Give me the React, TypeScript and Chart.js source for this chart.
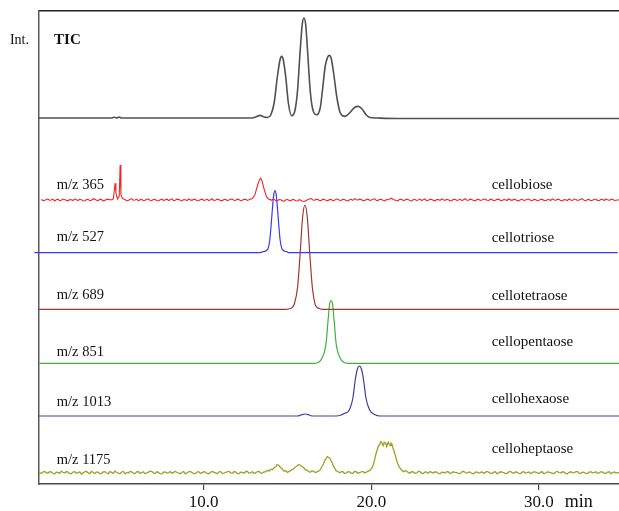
import { useEffect, useRef } from "react";
import { Chart, registerables } from "chart.js";

Chart.register(...registerables);

// ---------- data ----------
const timeMin = 0.14;
const timeMax = 34.78;
const xTickValues = [10, 20, 30];
const xUnit = "min";
const yAxisLabel = "Int.";

const traceNames = ["TIC", "m/z 365", "m/z 527", "m/z 689", "m/z 851", "m/z 1013", "m/z 1175"];
const compoundNames = ["", "cellobiose", "cellotriose", "cellotetraose", "cellopentaose", "cellohexaose", "celloheptaose"];
// vertical stacking offsets of each trace (intensity units)
const traceOffsets = [366, 284, 231.3, 174.7, 120.7, 68, 11.3];

// each trace: [time (min), intensity, time, intensity, ...]
const ticTrace = [
  0.14, 0, 4.5, 0, 4.7, 0.8, 4.8, 0, 4.95, 1, 5.1, 0, 12.9, 0, 13.1, 1, 13.36, 2.6, 13.6, 1, 13.8, 0.5,
  14.0, 3, 14.2, 15, 14.4, 42, 14.55, 58, 14.65, 61.6, 14.75, 58, 14.9, 40, 15.05, 15, 15.25, 2.3,
  15.45, 8, 15.6, 28, 15.75, 66, 15.88, 94, 15.98, 100, 16.08, 94, 16.2, 66, 16.35, 28, 16.5, 9, 16.74, 3.3,
  16.95, 10, 17.1, 30, 17.25, 52, 17.4, 61, 17.49, 62.6, 17.6, 60, 17.75, 45, 17.95, 20, 18.15, 5, 18.43, 1.6,
  18.7, 5, 19.0, 10.5, 19.22, 11.6, 19.45, 9, 19.7, 3, 19.92, 0.5, 20.3, 0, 21.5, -0.5, 34.78, -0.5,
];

const mz365Trace = [
  0.3, 0.5, 0.4, -0.4, 0.5, -0.5, 0.6, 0.6, 0.7, 1, 0.8, -0.2, 0.9, 0, 1.0, 0.9, 1.1, -1, 1.2, 0.2, 1.3, 0.8,
  1.4, -0.6, 1.5, -0.3, 1.6, 1, 1.7, 0.6, 1.8, -0.4, 1.9, -0.8, 2.0, 0.5, 2.1, 0.3, 2.2, -0.5, 2.3, 1.2,
  2.5, -0.5, 2.6, 0.7, 2.7, 0.2, 2.8, -0.7, 2.9, -1, 3.0, 0.4, 3.1, 0.7, 3.2, -0.6, 3.3, -0.2, 3.4, 1.1,
  3.5, 0.9, 3.6, -0.3, 3.7, -0.6, 3.8, 0.8, 3.9, 0.4, 4.0, -0.8, 4.1, -0.4, 4.2, 0.6, 4.3, 0.8,
  4.45, 0, 4.6, 1, 4.66, 9, 4.71, 16.7, 4.76, 7, 4.85, 1, 4.96, 4, 5.01, 35, 5.06, 5, 5.15, 1.5, 5.3, 0.5,
  5.4, -0.6, 5.5, -0.5, 5.6, 0.7, 5.7, 1.2, 5.8, -0.2, 5.9, 0, 6.0, 0.9, 6.1, -0.8, 6.2, 0.3, 6.3, 0.6,
  6.4, -0.7, 6.5, -0.3, 6.6, 0.8, 6.7, 1, 6.8, -0.2, 6.9, -0.6, 7.0, 0.7, 7.1, 0.4, 7.2, -0.5, 7.3, -1,
  7.4, 0.2, 7.5, 0.8, 7.6, -0.4, 7.7, 0.1, 7.8, 1, 7.9, -0.5, 8.0, 0.3, 8.1, 1.1, 8.2, -0.7, 8.3, -0.2,
  8.4, 0.9, 8.5, 0.6, 8.6, -0.3, 8.7, -0.9, 8.8, 0.5, 8.9, 0.3, 9.0, -0.6, 9.1, 1, 9.2, 0.1, 9.3, -0.4,
  9.4, 0.8, 9.5, 0.5, 9.6, -0.8, 9.7, -0.7, 9.8, 0.4, 9.9, 0.9, 10.0, -0.3, 10.1, 0, 10.2, 0.8, 10.3, -0.6,
  10.4, 0.3, 10.5, 1.2, 10.6, -0.5, 10.7, -0.3, 10.8, 0.9, 10.9, 0.4, 11.0, -0.4, 11.1, -0.8, 11.2, 0.5,
  11.3, 0.7, 11.4, -0.6, 11.5, 0, 11.6, 0.8, 11.7, 1, 11.8, -0.3, 11.9, -0.5, 12.0, 0.9, 12.1, 0.5,
  12.2, -0.7, 12.3, -0.3, 12.4, 0.6, 12.5, 0.8, 12.6, -0.4, 12.7, 0.2, 12.8, 1.1, 12.9, 1.5, 13.05, 5,
  13.2, 14, 13.32, 20, 13.4, 21.7, 13.48, 19, 13.6, 11, 13.75, 3, 13.9, 0.5, 14.0, 0.4, 14.05, -0.5,
  14.1, 0.6, 14.2, 0.8, 14.3, -0.6, 14.4, -0.8, 14.5, 0.5, 14.6, 0.3, 14.7, -0.9, 14.8, -1.2, 14.9, 0.2,
  15.0, 0.5, 15.1, -0.4, 15.2, -0.7, 15.3, 0.6, 15.4, 0.2, 15.5, -0.8, 15.6, -1, 15.7, 0.3, 15.8, -0.2,
  15.9, -1.2, 16.0, -1.5, 16.1, -0.6, 16.2, 0.3, 16.3, 0.9, 16.4, 1.5, 16.5, 0.2, 16.6, -0.4, 16.7, 0.6,
  16.8, 0.8, 16.9, -0.5, 17.0, -0.6, 17.1, 0.9, 17.2, 0.5, 17.3, -0.3, 17.4, -0.8, 17.5, 0.4, 17.6, 0.6,
  17.7, -0.6, 17.8, -0.3, 17.9, 0.8, 18.0, 1, 18.1, -0.2, 18.2, -0.5, 18.3, 0.7, 18.4, 0.4, 18.5, -0.6,
  18.6, -0.9, 18.7, 0.3, 18.8, 0.7, 18.9, -0.4, 19.0, 1.3, 19.1, 0.4, 19.2, -0.2, 19.3, 0.9, 19.4, 0.5,
  19.5, -0.6, 19.6, -0.7, 19.7, 0.5, 19.8, 0.9, 19.9, -0.3, 20.0, 0, 20.1, 0.8, 20.2, 1.2, 20.3, -0.5,
  20.4, -0.4, 20.5, 0.7, 20.6, 0.6, 20.7, -0.5, 20.8, -0.8, 20.9, 0.4, 21.0, 0.3, 21.1, 0.9, 21.2, 1.8,
  21.3, 0.5, 21.4, 0, 21.5, -0.8, 21.6, -0.6, 21.7, 0.6, 21.8, 0.8, 21.9, -0.4, 22.0, -0.3, 22.1, 0.9,
  22.2, 0.5, 22.3, -0.6, 22.4, -1, 22.5, 0.2, 22.6, 0.7, 22.7, -0.5, 22.8, 0.1, 22.9, 0.9, 23.0, -0.5,
  23.1, 0.3, 23.2, 1, 23.3, -0.6, 23.4, -0.2, 23.5, 0.8, 23.6, 0.6, 23.7, -0.4, 23.8, -0.8, 23.9, 0.5,
  24.0, 0.4, 24.1, -0.3, 24.2, 1.1, 24.3, 0.2, 24.4, -0.4, 24.5, 0.7, 24.6, 0.3, 24.7, -0.9, 24.8, -0.7,
  24.9, 0.6, 25.0, 0.8, 25.1, -0.4, 25.2, 0, 25.3, 0.9, 25.4, -0.6, 25.5, 0.2, 25.6, 1.3, 25.7, -0.2,
  25.8, -0.3, 25.9, 0.8, 26.0, 0.5, 26.1, -0.6, 26.2, -0.9, 26.3, 0.4, 26.4, 0.6, 26.5, -0.5, 26.6, 0,
  26.7, 0.7, 26.8, 1, 26.9, -0.3, 27.0, -0.5, 27.1, 0.8, 27.2, 0.4, 27.3, -0.7, 27.4, -0.2, 27.5, 0.6,
  27.6, 0.9, 27.7, -0.4, 27.8, -0.7, 27.9, 0.5, 28.0, 0.3, 28.1, -0.5, 28.2, 1.2, 28.3, 0.1, 28.4, -0.4,
  28.5, 0.8, 28.6, 0.5, 28.7, -0.6, 28.8, -0.8, 28.9, 0.3, 29.0, 0.7, 29.1, -0.4, 29.2, 0, 29.3, 0.8,
  29.4, 1, 29.5, -0.3, 29.6, -0.6, 29.7, 0.6, 29.8, 0.4, 29.9, -0.7, 30.0, -0.3, 30.1, 0.5, 30.2, 0.9,
  30.3, -0.4, 30.4, -0.7, 30.5, 0.3, 30.6, 0.5, 30.7, -0.5, 30.8, 1.1, 30.9, 0.2, 31.0, -0.4, 31.1, 0.7,
  31.2, 0.6, 31.3, -0.6, 31.4, -0.9, 31.5, 0.4, 31.6, 0.3, 31.7, -0.5, 31.8, 1, 31.9, 0.1, 32.0, -0.5,
  32.1, 0.8, 32.2, 0.7, 32.3, -0.4, 32.4, 0, 32.5, 0.9, 32.6, 1.2, 32.7, -0.3, 32.8, -0.6, 32.9, 0.5,
  33.0, 0.4, 33.1, -0.6, 33.2, -0.3, 33.3, 0.7, 33.4, 0.8, 33.5, -0.4, 33.6, -0.7, 33.7, 0.6, 33.8, 0.5,
  33.9, -0.5, 34.0, 1, 34.1, 0.2, 34.2, -0.4, 34.3, 0.7, 34.4, 0.6, 34.5, -0.5, 34.6, -0.2, 34.78, 0.3,
];

const mz527Trace = [
  -0.1, 0, 13.3, 0, 13.55, 1, 13.8, 3, 13.95, 14, 14.07, 38, 14.17, 57, 14.25, 62, 14.33, 57, 14.43, 38,
  14.55, 14, 14.7, 3, 14.95, 1, 15.1, 0, 34.7, 0,
];

const mz689Trace = [
  0.14, 0, 14.9, 0, 15.2, 1, 15.4, 5, 15.6, 22, 15.75, 55, 15.9, 92, 16.04, 104.3, 16.18, 92, 16.33, 55,
  16.48, 22, 16.65, 5, 16.85, 1, 17.1, 0, 34.78, 0,
];

const mz851Trace = [
  0.14, 0, 16.6, 0, 16.85, 1, 17.05, 5, 17.3, 20, 17.43, 45, 17.52, 60, 17.6, 62.6, 17.68, 60, 17.77, 45,
  17.9, 20, 18.15, 5, 18.35, 1, 18.6, 0, 34.78, 0,
];

const mz1013Trace = [
  0.14, 0, 15.6, 0, 15.8, 1, 16.04, 2, 16.3, 1, 16.5, 0, 17.9, 0, 18.2, 1, 18.45, 3, 18.65, 5, 18.9, 18,
  19.05, 37, 19.17, 47, 19.29, 50, 19.41, 47, 19.53, 37, 19.68, 18, 19.9, 6, 20.2, 1.5, 20.5, 0, 34.78, 0,
];

const mz1175Trace = [
  0.14, 0.5, 0.25, -0.3, 0.3, -0.8, 0.4, 0.6, 0.5, 1.2, 0.6, 0.1, 0.7, -0.5, 0.8, 1, 0.9, 0.8, 1.0, -0.6,
  1.1, -1.2, 1.2, 0.5, 1.3, 0.3, 1.4, -0.7, 1.5, 1.5, 1.6, 0.4, 1.7, -0.4, 1.8, 1.1, 1.9, 0.6, 2.0, -0.9,
  2.1, -1, 2.2, 0.7, 2.3, 1, 2.4, -0.5, 2.5, 0, 2.6, 0.9, 2.7, -1.3, 2.8, -0.2, 2.9, 0.9, 3.0, 1.4,
  3.1, -0.2, 3.2, -1, 3.3, 1.4, 3.4, 0.3, 3.5, -0.8, 3.6, 0.6, 3.7, 0.5, 3.8, -1.1, 3.9, -0.6, 4.0, 0.8,
  4.1, 1.1, 4.2, -0.3, 4.3, -1, 4.4, 1.2, 4.5, 0.4, 4.6, -0.6, 4.7, 1.6, 4.8, 0.5, 4.9, -0.5, 5.0, -1.1,
  5.1, 0.7, 5.2, 1.2, 5.3, -1.2, 5.4, 0.2, 5.5, -0.3, 5.6, 1.3, 5.7, 0.9, 5.8, -0.4, 5.9, -0.9, 6.0, 0.8,
  6.1, 1.2, 6.2, -0.7, 6.3, 0, 6.4, 0.9, 6.5, -1.1, 6.6, -0.2, 6.7, 0.6, 6.8, 1.5, 6.9, 1.3, 7.0, -0.4,
  7.1, -0.6, 7.2, 0.9, 7.3, 0.4, 7.4, -1.2, 7.5, -1, 7.6, 0.5, 7.7, 0.8, 7.8, -0.3, 7.9, 0.1, 8.0, 1.2,
  8.1, -0.7, 8.2, 0.3, 8.3, 1.4, 8.4, 0.2, 8.5, -0.4, 8.6, -1, 8.7, 0.5, 8.8, 1.1, 8.9, -1.2, 9.0, -0.2,
  9.1, 0.9, 9.2, 1.3, 9.3, 0.2, 9.4, -0.9, 9.5, -0.8, 9.6, 0.7, 9.7, 1.1, 9.8, -0.5, 9.9, -0.3, 10.0, 1,
  10.1, 0.6, 10.2, -0.8, 10.3, -1, 10.4, 0.4, 10.5, 1.3, 10.6, 0.5, 10.7, -0.2, 10.8, -1.1, 10.9, 0.7,
  11.0, 1.2, 11.1, -0.9, 11.2, -0.3, 11.3, 0.4, 11.4, 0.9, 11.5, 1.5, 11.6, -0.2, 11.7, -0.5, 11.8, 1,
  11.9, 0.8, 12.0, -0.7, 12.1, -1.1, 12.2, 0.6, 12.3, 0.3, 12.4, -0.5, 12.5, 1, 12.6, 1.4, 12.7, -0.6,
  12.8, 0.2, 12.9, 0.9, 13.0, -0.8, 13.1, 0, 13.2, 1.1, 13.3, 1.2, 13.4, -0.3, 13.5, -0.4, 13.6, 0.9,
  13.7, 0.8, 13.8, 2.4, 13.9, 1.8, 14.0, 3.5, 14.1, 3, 14.2, 5, 14.3, 6, 14.37, 8.2, 14.45, 7.7, 14.52, 6.5,
  14.6, 5, 14.7, 3.5, 14.8, 1.5, 14.9, 2, 15.0, 0.2, 15.08, 1.2, 15.15, 1.5, 15.25, 3, 15.35, 3.5,
  15.45, 5.5, 15.55, 6.5, 15.65, 8, 15.75, 7.7, 15.85, 6.2, 15.95, 5.5, 16.05, 3, 16.15, 2.5, 16.25, 1.2,
  16.35, 0.5, 16.45, 1.8, 16.55, 1.5, 16.65, 0.2, 16.75, 0.8, 16.85, 1.5, 16.95, 3, 17.05, 6, 17.15, 9,
  17.22, 12.5, 17.3, 14, 17.37, 16, 17.44, 15.4, 17.52, 14.5, 17.6, 12, 17.68, 9.5, 17.75, 6, 17.82, 4.5,
  17.9, 2, 18.0, 1.2, 18.1, 0, 18.2, 0.8, 18.3, 1.2, 18.4, -0.8, 18.5, -0.3, 18.6, 1.1, 18.7, 0.8,
  18.8, -0.4, 18.9, -0.6, 19.0, 1.2, 19.1, 1, 19.2, -0.5, 19.3, 0, 19.4, 0.9, 19.5, 1.3, 19.6, -0.2,
  19.7, 0.5, 19.8, 1.5, 19.9, 2, 19.98, 3.5, 20.05, 5, 20.12, 8.5, 20.2, 13, 20.27, 18.5, 20.35, 23,
  20.42, 26.5, 20.5, 28, 20.56, 31, 20.62, 30.4, 20.67, 28, 20.72, 27, 20.77, 30.5, 20.82, 30, 20.87, 28.5,
  20.92, 26, 20.97, 29.5, 21.02, 30.4, 21.07, 28, 21.12, 27, 21.17, 29.5, 21.22, 29, 21.28, 25.5, 21.35, 22,
  21.42, 18, 21.5, 13, 21.57, 9.5, 21.65, 6, 21.72, 4.5, 21.8, 3, 21.88, 1.5, 21.95, 1, 22.02, 2.2,
  22.1, 1.5, 22.2, 0.3, 22.3, -0.5, 22.4, 1, 22.5, 0.8, 22.6, -0.6, 22.7, -0.3, 22.8, 1.3, 22.9, 1,
  23.0, -0.4, 23.1, -0.8, 23.2, 0.7, 23.3, 0.5, 23.4, -0.5, 23.5, 1.2, 23.6, 0.3, 23.7, -0.4, 23.8, 0.9,
  23.9, 0.7, 24.0, -0.8, 24.1, -1, 24.2, 0.6, 24.3, 0.3, 24.4, -0.3, 24.5, 1.1, 24.6, 0.8, 24.7, -0.6,
  24.8, -0.2, 24.9, 0.9, 25.0, 0.4, 25.1, 0, 25.2, -0.7, 25.3, -0.9, 25.4, 0.8, 25.5, 1.4, 25.6, 0.2,
  25.7, -0.3, 25.8, 0.5, 25.9, 0.6, 26.0, -0.8, 26.1, -1.1, 26.2, 0.4, 26.3, 0.8, 26.4, -0.4, 26.5, 0.1,
  26.6, 1, 26.7, -0.7, 26.8, 0.3, 26.9, 1.2, 27.0, 0.5, 27.1, -0.4, 27.2, -0.8, 27.3, 0.5, 27.4, 0.9,
  27.5, -1, 27.6, -0.2, 27.7, 0.9, 27.8, 0.6, 27.9, 0.2, 28.0, -0.9, 28.1, -0.6, 28.2, 0.8, 28.3, 1.3,
  28.4, 0.1, 28.5, -0.5, 28.6, 0.9, 28.7, 0.4, 28.8, -0.6, 28.9, -0.9, 29.0, 0.5, 29.1, 1, 29.2, -0.3,
  29.3, 0, 29.4, 0.8, 29.5, -0.7, 29.6, -0.2, 29.7, 1.1, 29.8, 0.6, 29.9, -0.2, 30.0, -0.8, 30.1, 0.6,
  30.2, 0.9, 30.3, -1, 30.4, -0.3, 30.5, 0.8, 30.6, 0.5, 30.7, 0.1, 30.8, -0.6, 30.9, -0.8, 31.0, 0.7,
  31.1, 1.2, 31.2, 0.2, 31.3, -0.3, 31.4, 0.9, 31.5, 0.5, 31.6, -0.8, 31.7, -1.1, 31.8, 0.4, 31.9, 0.9,
  32.0, -0.2, 32.1, 0, 32.2, 0.8, 32.3, 1.3, 32.4, -0.4, 32.5, -0.6, 32.6, 0.6, 32.7, 0.4, 32.8, -0.7,
  32.9, -0.9, 33.0, 0.5, 33.1, 1, 33.2, -0.2, 33.3, 0.2, 33.4, 0.9, 33.5, -0.7, 33.6, -0.3, 33.7, 1.1,
  33.8, 0.6, 33.9, -0.4, 34.0, -0.8, 34.1, 0.6, 34.2, 0.9, 34.3, -1, 34.4, 0.2, 34.5, 0.8, 34.6, -0.3,
  34.78, 0,
];

const traces = [ticTrace, mz365Trace, mz527Trace, mz689Trace, mz851Trace, mz1013Trace, mz1175Trace];

// ---------- styling / layout ----------
const traceColors = ["#505050", "#ee2a2a", "#3a3af2", "#a03636", "#3cb23c", "#3e3ea2", "#a0a024"];
const traceWidths = [1.6, 1.1, 1.2, 1.2, 1.2, 1.2, 1.3];
const traceUnclipped = [false, false, true, false, false, false, false];
const traceSmooth = [true, false, true, true, true, true, false];

const labelLayout = {
  leftTime: 1.23,
  rightTime: 27.18,
  ticTime: 1.07,
  ticValue: 444,
  intValue: 443.3,
  unitTime: 31.55,
  leftLift: [0, 15, 15.7, 14, 11.3, 14, 12.7],
  rightLift: [0, 15, 14.7, 13.3, 21.3, 17, 23.7],
};

const FONT = "'Liberation Serif', 'Times New Roman', serif";

function toPoints(arr: number[], offset: number) {
  const pts: { x: number; y: number }[] = [];
  for (let i = 0; i + 1 < arr.length; i += 2) pts.push({ x: arr[i], y: arr[i + 1] + offset });
  return pts;
}

const labelPlugin = {
  id: "chromLabels",
  afterDatasetsDraw(chart: any) {
    const { ctx, scales, chartArea } = chart;
    const xs = scales.x;
    const ys = scales.y;
    ctx.save();
    ctx.fillStyle = "#111";
    ctx.textBaseline = "middle";

    // Int.
    ctx.font = `14px ${FONT}`;
    ctx.textAlign = "right";
    ctx.fillText(yAxisLabel, chartArea.left - 9.5, ys.getPixelForValue(labelLayout.intValue));

    // TIC
    ctx.font = `bold 15px ${FONT}`;
    ctx.textAlign = "left";
    ctx.fillText(traceNames[0], xs.getPixelForValue(labelLayout.ticTime), ys.getPixelForValue(labelLayout.ticValue));

    for (let i = 1; i < traceNames.length; i++) {
      ctx.font = `14.5px ${FONT}`;
      ctx.fillText(
        traceNames[i],
        xs.getPixelForValue(labelLayout.leftTime),
        ys.getPixelForValue(traceOffsets[i] + labelLayout.leftLift[i])
      );
      ctx.font = `15px ${FONT}`;
      ctx.fillText(
        compoundNames[i],
        xs.getPixelForValue(labelLayout.rightTime),
        ys.getPixelForValue(traceOffsets[i] + labelLayout.rightLift[i])
      );
    }

    // unit
    ctx.font = `18px ${FONT}`;
    ctx.textBaseline = "top";
    ctx.fillText(xUnit, xs.getPixelForValue(labelLayout.unitTime), chartArea.bottom + 9);
    ctx.restore();
  },
};

export default function App() {
  const ref = useRef<HTMLCanvasElement | null>(null);

  useEffect(() => {
    if (!ref.current) return;
    const datasets = traces.map((tr, i) => ({
      label: traceNames[i],
      data: toPoints(tr, traceOffsets[i]),
      borderColor: traceColors[i],
      borderWidth: traceWidths[i],
      pointRadius: 0,
      fill: false,
      cubicInterpolationMode: traceSmooth[i] ? ("monotone" as const) : ("default" as const),
      tension: 0,
      clip: traceUnclipped[i] ? false : undefined,
    }));

    const chart = new Chart(ref.current, {
      type: "line",
      data: { datasets },
      options: {
        animation: false,
        responsive: false,
        devicePixelRatio: 1,
        parsing: false,
        normalized: true,
        layout: { padding: { left: 38.5, top: 11, right: 0, bottom: 0 } },
        plugins: { legend: { display: false }, tooltip: { enabled: false } },
        scales: {
          x: {
            type: "linear",
            position: "bottom",
            min: timeMin,
            max: timeMax,
            afterBuildTicks: (s: any) => {
              s.ticks = xTickValues.map((v) => ({ value: v }));
            },
            afterFit: (s: any) => {
              s.height = 27;
            },
            ticks: {
              callback: (v: any) => Number(v).toFixed(1),
              color: "#111",
              font: { family: FONT, size: 17 },
              maxRotation: 0,
              autoSkip: false,
              padding: 2,
            },
            grid: { drawOnChartArea: false, drawTicks: true, tickLength: 6, color: "#444", lineWidth: 1.2 },
            border: { display: true, color: "#4a4a4a", width: 1.5 },
          },
          xTop: {
            type: "linear",
            position: "top",
            min: timeMin,
            max: timeMax,
            display: true,
            afterFit: (s: any) => {
              s.height = 0;
            },
            ticks: { display: false },
            grid: { display: false, drawTicks: false },
            border: { display: true, color: "#222", width: 1.5 },
          },
          y: {
            type: "linear",
            min: 0,
            max: 473,
            afterFit: (s: any) => {
              s.width = 0;
            },
            ticks: { display: false },
            grid: { display: false, drawTicks: false },
            border: { display: true, color: "#5a5a5a", width: 1.5 },
          },
        },
      },
      plugins: [labelPlugin],
    });
    return () => chart.destroy();
  }, []);

  return (
    <div style={{ position: "absolute", left: 0, top: 0, width: 619, height: 511, background: "#fff" }}>
      <canvas ref={ref} width={619} height={511} style={{ width: 619, height: 511, display: "block" }} />
    </div>
  );
}
